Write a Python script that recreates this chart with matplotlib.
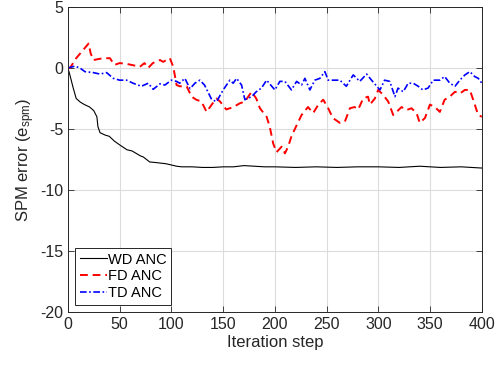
import matplotlib
matplotlib.use('Agg')
import matplotlib.pyplot as plt

plt.rcParams['font.family'] = ['Liberation Sans', 'DejaVu Sans']
plt.rcParams['mathtext.fontset'] = 'custom'
plt.rcParams['mathtext.rm'] = 'Liberation Sans'
plt.rcParams['mathtext.it'] = 'Liberation Sans'
plt.rcParams['axes.unicode_minus'] = False

# WD ANC: fast decay, settles near -8
wd_x = [0, 2, 5, 8, 12, 16, 21, 25, 28, 29, 31, 36, 40, 45, 50, 57, 62, 66, 70, 73,
        79, 85, 90, 95, 100, 105, 110, 120, 130, 140, 150, 160, 170, 180, 190,
        200, 220, 240, 260, 280, 300, 320, 340, 360, 380, 400]
wd_y = [0, -0.6, -1.6, -2.5, -2.8, -3.0, -3.2, -3.5, -4.0, -4.8, -5.3, -5.5, -5.6,
        -6.0, -6.3, -6.7, -6.8, -7.0, -7.2, -7.3, -7.7, -7.75, -7.8, -7.85, -7.95,
        -8.05, -8.1, -8.1, -8.15, -8.15, -8.1, -8.1, -8.0, -8.05, -8.1,
        -8.1, -8.15, -8.1, -8.15, -8.1, -8.1, -8.15, -8.05, -8.15, -8.1, -8.2]

# FD ANC
fd_x = [0, 2, 8, 15, 20, 22, 24.5, 27.7, 34, 40.6, 45, 50, 57, 61.5, 69.6, 74, 77.6,
        82, 89, 92, 98.5, 101.8, 105, 108, 114.7, 119.5, 124, 129, 134, 139, 143.7,
        147, 153, 160, 166, 171, 177.5, 182, 185.5, 192, 195, 198.4, 201.6, 206.5,
        209.7, 212.8, 216, 221, 225.8, 232, 237, 242, 246.7, 251.5, 256, 262.8,
        267.6, 272.5, 277, 280.5, 285.3, 290, 291.8, 296.6, 299.8, 304.6, 309.5,
        314.3, 317.6, 322.4, 327, 332, 336.9, 340, 345, 349.8, 354.6, 359.4, 364,
        369, 374, 378.7, 383.6, 388.4, 391.6, 396.4, 400]
fd_y = [0, 0, 0.8, 1.5, 2.0, 1.2, 0.65, 0.7, 0.8, 0.8, 0.25, 0.4, 0.33, 0.25, 0.1,
        0.4, 0.0, 0.4, 0.65, 0.5, 0.8, 0.1, -1.4, -1.5, -1.5, -2.35, -2.6, -2.75,
        -3.6, -3.0, -2.5, -2.75, -3.4, -3.2, -2.9, -2.75, -1.95, -2.5, -3.3, -4.0,
        -4.8, -6.2, -6.9, -6.45, -7.0, -6.45, -5.6, -4.7, -3.85, -3.2, -3.7, -3.0,
        -2.6, -3.3, -4.1, -4.5, -4.4, -3.3, -3.2, -3.4, -2.5, -2.35, -3.0, -2.5,
        -1.8, -2.2, -2.75, -3.85, -3.6, -3.2, -3.45, -3.3, -3.7, -4.5, -4.1, -3.0,
        -3.2, -3.6, -2.6, -2.35, -1.95, -2.1, -1.8, -1.8, -2.6, -3.85, -4.0]

# TD ANC
td_x = [0, 6.8, 11.6, 16.4, 24.5, 31, 37.4, 43.8, 50, 56.7, 63, 71, 77.6, 82.4, 89,
        93.7, 100, 105, 108, 113, 118, 122.7, 127.5, 132, 139, 143.7, 150, 156.5,
        159.7, 163, 167.8, 171, 177.5, 182, 187, 192, 195, 200, 204.8, 209.7, 216,
        221, 225.8, 229, 233.8, 238.6, 243.5, 248.3, 251.5, 258, 262.8, 269, 275.7,
        282, 288.6, 293.4, 301.5, 306, 311, 316, 319, 324, 328.8, 333.6, 338.5,
        343, 348, 353, 359.4, 364, 369, 374, 378.7, 383.6, 388.4, 393, 396.5, 400]
td_y = [0, 0.15, 0, -0.3, -0.38, -0.5, -0.38, -0.85, -1.0, -1.0, -1.25, -1.5, -1.25,
        -1.75, -1.3, -1.4, -1.0, -1.1, -1.25, -0.85, -1.7, -1.25, -1.0, -1.4, -2.6,
        -2.75, -1.8, -1.0, -1.25, -0.85, -1.4, -2.6, -2.35, -1.95, -1.65, -1.0,
        -1.3, -1.8, -1.1, -1.1, -1.8, -1.1, -1.4, -0.85, -1.8, -1.0, -0.85, -0.3,
        -1.0, -1.0, -1.0, -1.5, -0.57, -1.1, -0.5, -1.0, -1.8, -1.0, -1.1, -2.35,
        -1.65, -1.95, -1.25, -1.25, -1.5, -1.8, -1.65, -1.0, -1.0, -0.7, -1.25,
        -1.5, -1.0, -0.57, -0.3, -0.7, -0.85, -1.25]

fig = plt.figure(figsize=(5.03, 3.65), dpi=100)
ax = fig.add_axes([0.135, 0.145, 0.823, 0.836])

ax.plot(wd_x, wd_y, color='black', lw=0.8, label='WD ANC')
ax.plot(fd_x, fd_y, color='red', lw=1.4, ls=(0, (4, 2.5)), label='FD ANC')
ax.plot(td_x, td_y, color='blue', lw=1.2, ls=(0, (4, 1.5, 1, 1.5)), label='TD ANC')

ax.set_xlim(0, 400)
ax.set_ylim(-20, 5)
ax.set_xticks(range(0, 401, 50))
ax.set_yticks(range(-20, 6, 5))
ax.grid(True, color='#dcdcdc', lw=0.8)
ax.set_axisbelow(True)
ax.tick_params(direction='in', length=4, width=0.6, colors='#262626',
               labelsize=11.5, top=True, right=True, labeltop=False, labelright=False)
for s in ax.spines.values():
    s.set_color('#262626')
    s.set_linewidth(0.7)

ax.set_xlabel('Iteration step', fontsize=12, color='#262626', labelpad=2)
ax.set_ylabel('SPM error (e$_{\\mathregular{spm}}$)', fontsize=12, color='#262626', labelpad=2)

leg = ax.legend(loc='lower left', fontsize=10.5, fancybox=False, edgecolor='#262626',
                framealpha=1, handlelength=1.9, handletextpad=0.05, borderpad=0.3,
                labelspacing=0.2, borderaxespad=0.5)
leg.get_frame().set_linewidth(0.7)

fig.savefig('out.png', dpi=100)
